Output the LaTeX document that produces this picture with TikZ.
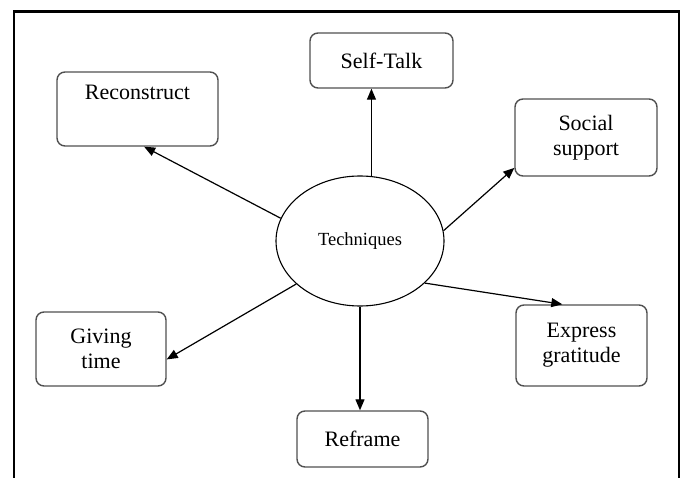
\documentclass[tikz,border=0pt]{standalone}
\usepackage{fontspec}
\setmainfont{Liberation Serif}
\usetikzlibrary{arrows.meta,shapes.geometric}

\begin{document}
\begin{tikzpicture}[x=1pt,y=1pt,
  techbox/.style={draw=boxColor,line width=1.4pt,rounded corners=8pt,
    inner sep=0pt,align=center,font=\fontsize{22}{25}\selectfont},
  link/.style={draw=drawColor,line width=1.2pt,
    -{Triangle[length=11pt,width=9pt]}}]
\definecolor{fillColor}{RGB}{255,255,255}
\definecolor{drawColor}{RGB}{0,0,0}
\definecolor{boxColor}{RGB}{80,80,80}
\path[use as bounding box,fill=fillColor] (0,0) rectangle (685,477);

% outer frame
\path[draw=drawColor,line width=2.6pt,line join=miter] (14,-5) -- (14,465.5) --
	(679,465.5) -- (679,-5);

% centre
\node[ellipse,draw=drawColor,line width=1.1pt,inner sep=0pt,
  minimum width=168pt,minimum height=130pt,
  font=\fontsize{18.5}{22}\selectfont] (tech) at (360,236) {Techniques};

% boxes
\node[techbox,minimum width=143pt,minimum height=55pt] (selftalk) at (381.5,416.5) {Self-Talk};

\node[techbox,minimum width=161pt,minimum height=74pt] (recon) at (137.5,368) {Reconstruct\\\strut};

\node[techbox,minimum width=142pt,minimum height=77pt] (social) at (586,339.5) {Social\\support};

\node[techbox,minimum width=130pt,minimum height=74pt] (giving) at (101,128) {Giving\\time};

\node[techbox,minimum width=131pt,minimum height=81pt] (express) at (581.5,131.5) {Express\\gratitude};

\node[techbox,minimum width=131pt,minimum height=56pt] (reframe) at (362.5,38) {Reframe};

% arrows
\path[link] (tech.164) -- (recon.-80);

\path[link] (tech.80) -- (tech.80 |- selftalk.south);

\path[link] (tech.7) -- (social.203);

\path[link] (tech.-33) -- (express.115);

\path[link] (tech.south) -- (tech.south |- reframe.north);

\path[link] (tech.214) -- (giving.-9);
\end{tikzpicture}
\end{document}
